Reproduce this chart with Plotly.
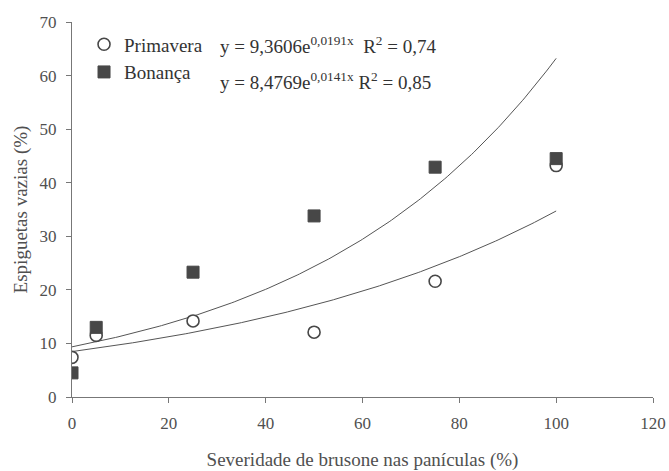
import numpy as np
import plotly.graph_objects as go

# Data
severidade = [0, 5, 25, 50, 75, 100]
primavera = [7.4, 11.5, 14.2, 12.1, 21.6, 43.2]
bonanca = [4.5, 13.0, 23.3, 33.8, 42.9, 44.5]

# Trend-line coefficients as printed in the chart
curve_a = [9.3606, 8.4769]
curve_b = [0.0191, 0.0141]

x_ticks = [0, 20, 40, 60, 80, 100, 120]
y_ticks = [0, 10, 20, 30, 40, 50, 60, 70]

FONT = "Liberation Serif, Times New Roman, serif"
GREY = "#505050"
MARK = "#474747"

fig = go.Figure()

xs = np.linspace(0, 100, 201)
for a, b in zip(curve_a, curve_b):
    fig.add_trace(go.Scatter(x=xs, y=a * np.exp(b * xs), mode="lines",
                             line=dict(color="#555555", width=1),
                             showlegend=False, hoverinfo="skip"))

fig.add_trace(go.Scatter(x=severidade, y=primavera, mode="markers", name="Primavera",
                         legendgroup="p",
                         marker=dict(symbol="circle", size=12, color="white",
                                     line=dict(color=MARK, width=1.6))))
fig.add_trace(go.Scatter(x=severidade, y=bonanca, mode="markers", name="Bonança",
                         legendgroup="b",
                         marker=dict(symbol="square", size=12, color=MARK,
                                     line=dict(color=MARK, width=1))))

fig.add_annotation(xref="paper", yref="paper", x=0.2513, y=0.939, xanchor="left", yanchor="middle",
                   text="y = 9,3606e<sup>0,0191x</sup>  R<sup>2</sup> = 0,74", showarrow=False,
                   font=dict(family=FONT, size=19, color="#333333"))
fig.add_annotation(xref="paper", yref="paper", x=0.2513, y=0.843, xanchor="left", yanchor="middle",
                   text="y = 8,4769e<sup>0,0141x</sup> R<sup>2</sup> = 0,85", showarrow=False,
                   font=dict(family=FONT, size=19, color="#333333"))

axis_common = dict(showline=True, linecolor="#777777", linewidth=1, ticks="outside",
                   ticklen=5, tickcolor="#777777", showgrid=False, zeroline=False,
                   automargin=False,
                   tickfont=dict(family=FONT, size=17, color=GREY))

fig.update_xaxes(range=[0, 120], tickvals=x_ticks, ticklabelstandoff=6, **axis_common,
                 title=dict(text="Severidade de brusone nas panículas (%)",
                            font=dict(family=FONT, size=19, color=GREY), standoff=20))
fig.update_yaxes(range=[0, 70], tickvals=y_ticks, ticklabelstandoff=6, **axis_common,
                 title=dict(text="Espiguetas vazias (%)",
                            font=dict(family=FONT, size=19, color=GREY), standoff=6))

fig.update_layout(
    width=669, height=471,
    margin=dict(l=72, r=16, t=22, b=74),
    paper_bgcolor="white", plot_bgcolor="white",
    showlegend=True,
    legend=dict(x=0.0207, y=0.991, xanchor="left", yanchor="top", bgcolor="rgba(0,0,0,0)",
                font=dict(family=FONT, size=19, color="#333333"), itemwidth=30,
                traceorder="grouped", tracegroupgap=0),
)

fig.write_html("out.html", config={"displayModeBar": False},
               post_script="document.body.style.margin='0';document.body.style.overflow='hidden';")
